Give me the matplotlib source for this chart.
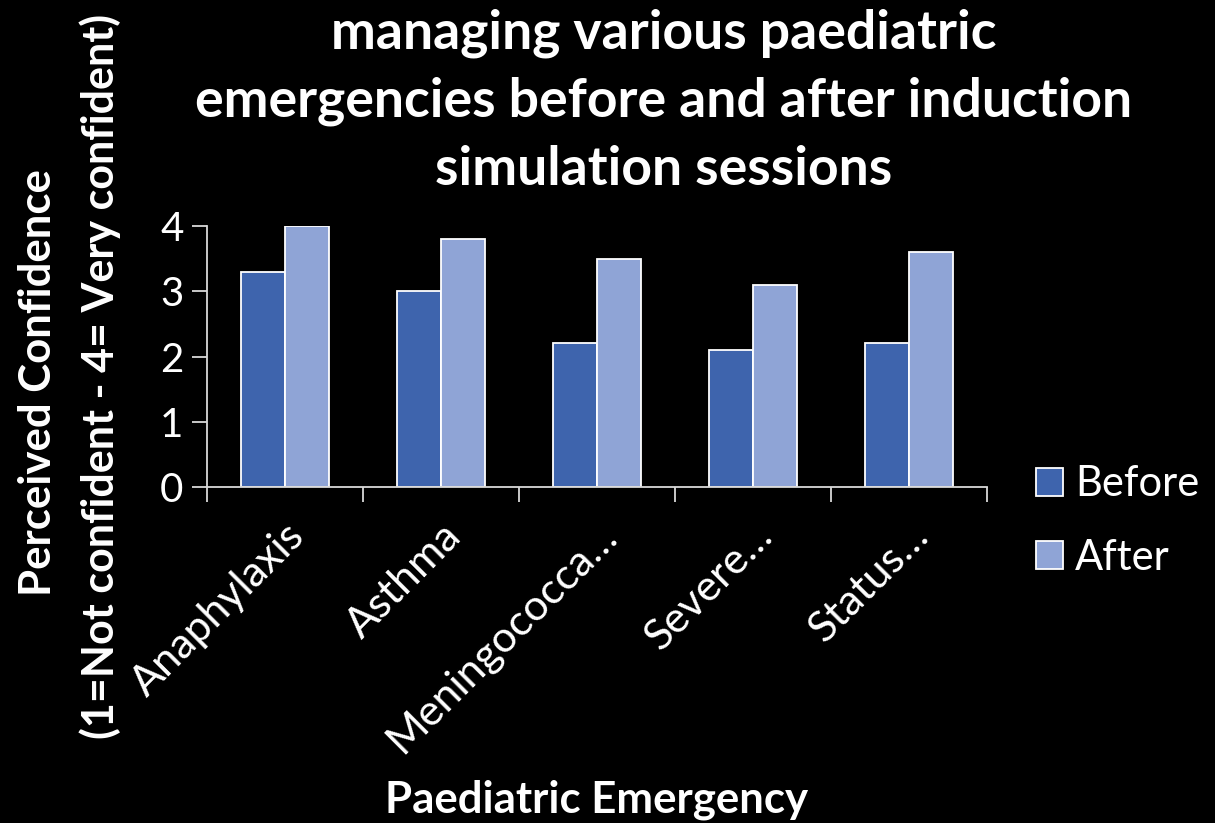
import matplotlib
matplotlib.use("Agg")
import matplotlib.pyplot as plt
import numpy as np
from matplotlib.patches import Patch

categories = ["Anaphylaxis", "Asthma", "Meningococca\u2026", "Severe\u2026", "Status\u2026"]
before = [3.3, 3.0, 2.2, 2.1, 2.2]
after = [4.0, 3.8, 3.5, 3.1, 3.6]
series_names = ["Before", "After"]
yticks = [0, 1, 2, 3, 4]

c_before = "#3E64AD"
c_after = "#8FA4D6"

plt.rcParams['font.family'] = ['Lato', 'DejaVu Sans']

fig = plt.figure(figsize=(12.15, 8.23), dpi=100, facecolor="black")
ax = fig.add_axes([207/1215, 1-487/823, 780/1215, (487-226)/823])
ax.set_facecolor("black")

x = np.arange(len(categories))
w = 0.285
ax.bar(x - w/2, before, w, color=c_before, edgecolor="white", linewidth=1.3, label=series_names[0])
ax.bar(x + w/2, after, w, color=c_after, edgecolor="white", linewidth=1.3, label=series_names[1])

ax.set_xlim(-0.5, len(categories) - 0.5)
ax.set_ylim(0, 4)
ax.set_yticks(yticks)
ax.set_yticklabels([str(t) for t in yticks], color="white", fontsize=29)
ax.set_xticks(x)
ax.set_xticklabels(categories, rotation=45, ha="right", va="top", rotation_mode="anchor",
                   color="white", fontsize=31)
ax.set_xticks(np.arange(-0.5, len(categories)), minor=True)
ax.tick_params(axis="x", which="major", length=0, pad=21)
ax.tick_params(axis="x", which="minor", length=11, width=1.3, color="#d9d9d9", direction="out")
ax.tick_params(axis="y", length=11, width=1.3, color="#d9d9d9", direction="out", pad=6)

for s in ["top", "right"]:
    ax.spines[s].set_visible(False)
for s in ["left", "bottom"]:
    ax.spines[s].set_color("#d9d9d9")
    ax.spines[s].set_linewidth(1.3)

handles = [Patch(facecolor=c_before, edgecolor="white", linewidth=1.3),
           Patch(facecolor=c_after, edgecolor="white", linewidth=1.3)]
leg = fig.legend(handles, series_names, loc="center left", bbox_to_anchor=(1019/1215, 1-521/823),
                 frameon=False, fontsize=30, labelcolor="white", handlelength=0.65, handleheight=0.65,
                 handletextpad=0.3, labelspacing=0.85, borderaxespad=0)

fig.text(664/1215, 1-101/823,
         "managing various paediatric\nemergencies before and after induction\nsimulation sessions",
         ha="center", va="center", color="white", fontsize=38.5, fontweight="bold", linespacing=1.47)

fig.text(38/1215, 1-383/823, "Perceived Confidence", rotation=90, ha="center", va="center",
         color="white", fontsize=31.5, fontweight="bold")
fig.text(100/1215, 1-376/823, "(1=Not confident - 4= Very confident)", rotation=90, ha="center",
         va="center", color="white", fontsize=31, fontweight="bold")

fig.text(597/1215, 1-800/823, "Paediatric Emergency", ha="center", va="center", color="white",
         fontsize=31.5, fontweight="bold")

fig.savefig("out.png", dpi=100, facecolor="black")
